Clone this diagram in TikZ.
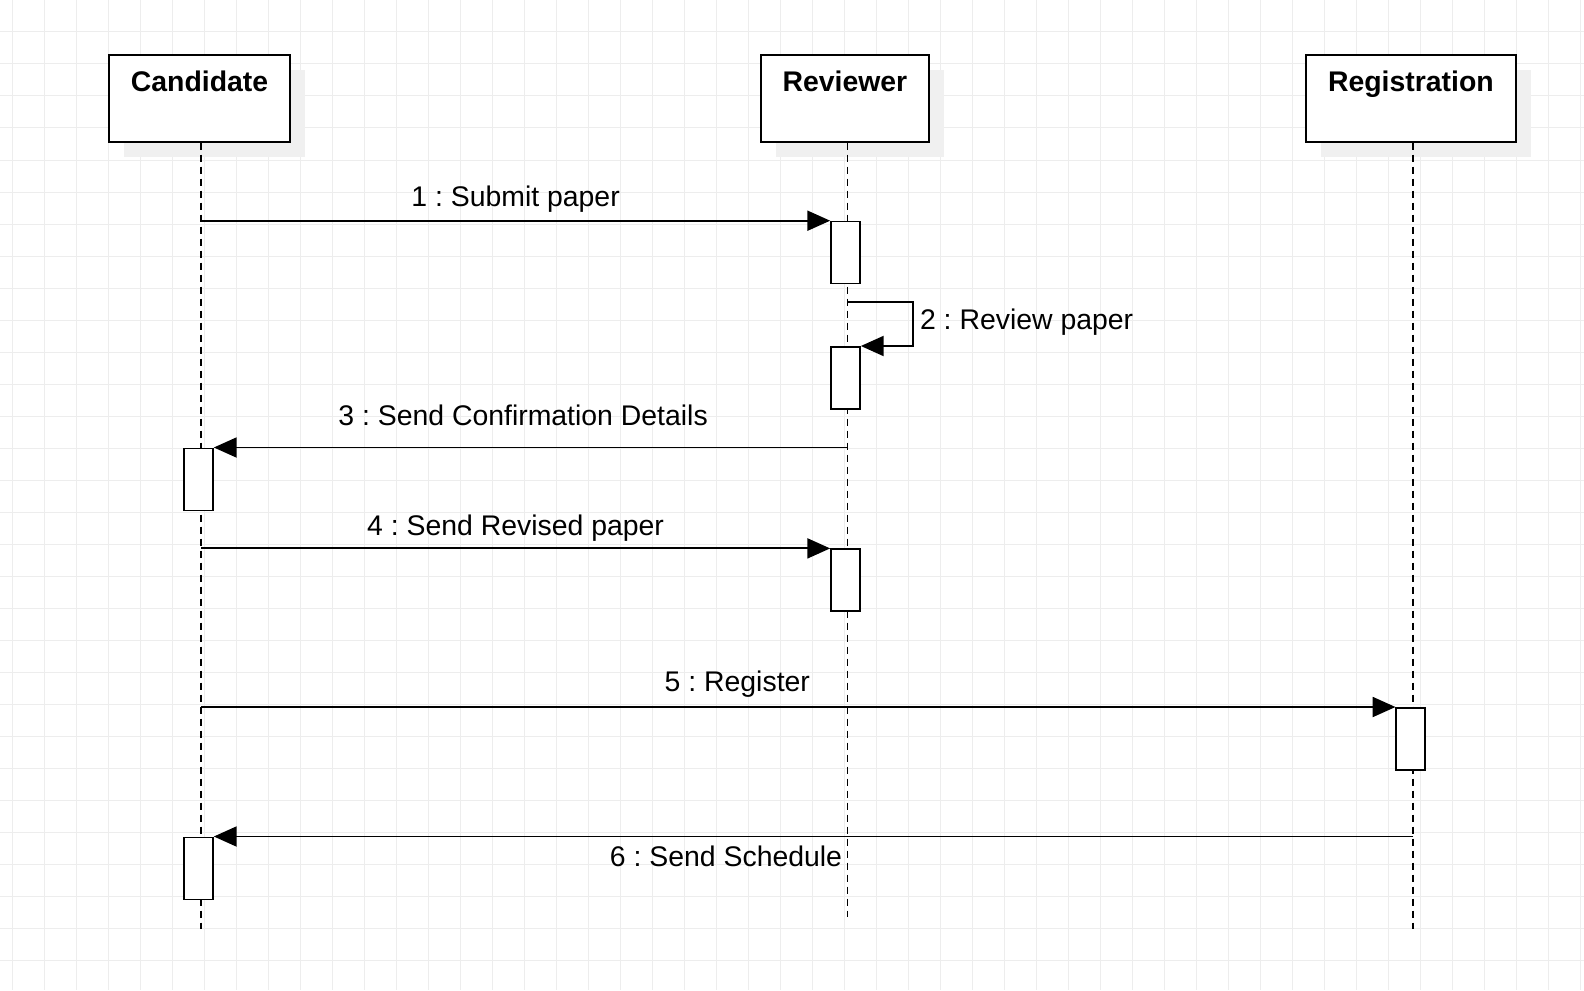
\documentclass[tikz,border=0pt]{standalone}
\usepackage{fontspec}
\setmainfont{Liberation Sans}
\frenchspacing
\usetikzlibrary{arrows.meta, shadows, positioning}
\tikzset{gridline/.style={draw=black!7, line width=0.5pt},
    head/.style={draw=black, line width=1pt, fill=white, minimum height=43pt, inner sep=0pt,
        drop shadow={shadow xshift=7.5pt, shadow yshift=-7.5pt, fill=black!6, opacity=1}},
    headname/.style={anchor=base, yshift=-18.4pt, inner sep=0pt, font=\fontsize{14.2}{17}\selectfont\bfseries},
    lifeline/.style={line width=0.85pt, dash pattern=on 3.5pt off 2.5pt},
    act/.style={draw=black, line width=0.85pt, fill=white, minimum width=14.5pt, minimum height=31pt, inner sep=0pt, anchor=north},
    msg/.style={line width=0.95pt, -{Triangle[length=11.4pt, width=10pt]}},
    msgtext/.style={anchor=base, inner sep=0pt, font=\fontsize{14.2}{17}\selectfont}}
\begin{document}
\begin{tikzpicture}[x=0.5pt, y=-0.5pt]
    \useasboundingbox (0,0) rectangle (1584,990);
    \fill[white] (0,0) rectangle (1584,990);
    % grid
    \foreach \gx in {0,...,49} \draw[gridline] ({12.7+32*\gx},0) -- ({12.7+32*\gx},990);
    \foreach \gy in {0,...,30} \draw[gridline] (0,{32*\gy}) -- (1584,{32*\gy});
    % heads
    \node[head, minimum width=90.5pt, label={[headname]north:Candidate}] (cand) at (199.5,98.5) {};
    \node[head, minimum width=84.2pt, label={[headname]north:Reviewer}] (rev) at (844.9,98.5) {};
    \node[head, minimum width=104.9pt, label={[headname]north:Registration}] (reg) at (1410.9,98.5) {};
    % lifelines
    \coordinate (candend) at (201,929);
    \coordinate (revend) at (847.5,917);
    \coordinate (regend) at (1413.3,929);
    \draw[lifeline] (cand.south -| candend) -- (candend);
    \draw[lifeline] (rev.south -| revend) -- (revend);
    \draw[lifeline] (reg.south -| regend) -- (regend);
    % activations
    \node[act] (r1) at (845.5,220.7) {};
    \node[act] (r2) at (845.5,346) {};
    \node[act] (c1) at (198.5,447.5) {};
    \node[act] (r3) at (845.5,548.4) {};
    \node[act] (g1) at (1410.8,707) {};
    \node[act] (c2) at (198.5,836.5) {};
    % messages
    \coordinate (self) at (847.5,301.7);
    \draw[msg] (r1.north west -| candend) -- (r1.north west) node[msgtext, midway, yshift=7pt] (l1) {1 : Submit paper};
    \draw[msg] (self) -- ++(65.2,0) |- node[msgtext, pos=0.25, anchor=base west, xshift=3.2pt, yshift=-2.6pt] (l2) {2 : Review paper} (r2.north east);
    \draw[msg] (c1.north east -| revend) -- (c1.north east) node[msgtext, pos=0.512, yshift=10.85pt] (l3) {3 : Send Confirmation Details};
    \draw[msg] (r3.north west -| candend) -- (r3.north west) node[msgtext, midway, yshift=6.65pt] (l4) {4 : Send Revised paper};
    \draw[msg] (g1.north west -| candend) -- (g1.north west) node[msgtext, pos=0.449, yshift=8pt] (l5) {5 : Register};
    \draw[msg] (c2.north east -| regend) -- (c2.north east) node[msgtext, pos=0.573, yshift=-15pt] (l6) {6 : Send Schedule};
\end{tikzpicture}
\end{document}
